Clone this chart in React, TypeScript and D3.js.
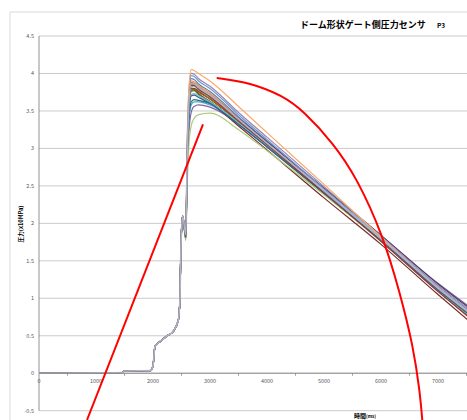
import React from "react";
import * as d3 from "d3";

const TITLE = "ドーム形状ゲート側圧力センサ";
const TITLE_SUB = "P3";
const Y_LABEL = "圧力(x10MPa)";
const X_LABEL_MAIN = "時間";
const X_LABEL_UNIT = "(ms)";

const X_TICKS = [0, 1000, 2000, 3000, 4000, 5000, 6000, 7000];
const X_MINOR = [500, 1500, 2500, 3500, 4500, 5500, 6500, 7500];
const Y_TICKS = [-0.5, 0, 0.5, 1, 1.5, 2, 2.5, 3, 3.5, 4, 4.5];

// shared pre-fill trace (all sensors coincide here)
const BASE_T = [0, 1000, 1470, 1500, 1960, 2000, 2035, 2120, 2250, 2356, 2445, 2474, 2485, 2500, 2520];
const BASE_V = [0, 0.005, 0.01, 0.03, 0.035, 0.1, 0.36, 0.42, 0.5, 0.56, 0.71, 1.02, 1.51, 1.9, 2.1];

// per-shot times after the fill
const SHOT_T = [2575, 2600, 2630, 2670, 2720, 2800, 3000, 3500, 4000, 5000, 6000, 7000, 7600];

const COLORS = [
  "#4F81BD", "#C0504D", "#9BBB59", "#8064A2", "#4BACC6", "#F79646",
  "#2C4D75", "#772C2A", "#5F7530", "#4D3B62", "#276A7C", "#B65708",
  "#729ACA", "#CD7371", "#AFC97A", "#9983B5", "#6FBDD1", "#F9AB6B",
  "#3A5F8B", "#8A3B38", "#AEB4CA",
];

const S1 = [1.85, 2.9, 3.6, 3.93, 3.92, 3.86, 3.76, 3.42, 3.10, 2.45, 1.79, 1.13, 0.76];
const S2 = [1.80, 2.8, 3.55, 3.86, 3.86, 3.80, 3.70, 3.38, 3.05, 2.40, 1.76, 1.10, 0.72];
const S3 = [1.82, 2.85, 3.55, 3.82, 3.83, 3.78, 3.68, 3.37, 3.06, 2.42, 1.78, 1.12, 0.75];
const S4 = [1.78, 2.6, 3.2, 3.48, 3.56, 3.58, 3.55, 3.33, 3.05, 2.47, 1.84, 1.20, 0.86];
const S5 = [1.80, 2.7, 3.35, 3.58, 3.62, 3.62, 3.58, 3.33, 3.03, 2.43, 1.80, 1.15, 0.80];
const S6 = [1.84, 2.95, 3.65, 3.90, 3.89, 3.84, 3.74, 3.40, 3.08, 2.44, 1.79, 1.13, 0.76];
const S7 = [1.83, 2.85, 3.55, 3.80, 3.80, 3.76, 3.66, 3.36, 3.05, 2.42, 1.78, 1.11, 0.74];
const S8 = [1.80, 2.8, 3.5, 3.78, 3.78, 3.73, 3.62, 3.30, 2.98, 2.34, 1.72, 1.05, 0.66];
const S9 = [1.82, 2.85, 3.5, 3.76, 3.77, 3.72, 3.63, 3.33, 3.02, 2.40, 1.77, 1.11, 0.75];
const S10 = [1.85, 2.9, 3.6, 3.85, 3.85, 3.80, 3.71, 3.40, 3.09, 2.47, 1.84, 1.19, 0.84];
const S11 = [1.80, 2.75, 3.4, 3.62, 3.65, 3.64, 3.60, 3.34, 3.03, 2.41, 1.77, 1.11, 0.74];
const S12 = [1.83, 2.85, 3.55, 3.79, 3.79, 3.75, 3.66, 3.36, 3.05, 2.42, 1.78, 1.12, 0.76];
const S13 = [1.86, 3.0, 3.7, 3.97, 3.96, 3.90, 3.80, 3.45, 3.12, 2.46, 1.81, 1.15, 0.79];
const S14 = [1.84, 2.9, 3.6, 3.88, 3.87, 3.82, 3.72, 3.39, 3.07, 2.43, 1.78, 1.12, 0.74];
const S15 = [1.77, 2.5, 3.05, 3.30, 3.40, 3.45, 3.47, 3.25, 2.97, 2.38, 1.76, 1.10, 0.74];
const S16 = [1.87, 3.05, 3.75, 4.00, 3.99, 3.93, 3.83, 3.48, 3.15, 2.49, 1.83, 1.17, 0.82];
const S17 = [1.82, 2.8, 3.5, 3.72, 3.73, 3.70, 3.62, 3.34, 3.04, 2.42, 1.79, 1.13, 0.77];
const S18 = [1.88, 3.1, 3.8, 4.05, 4.04, 4.00, 3.90, 3.56, 3.21, 2.52, 1.82, 1.14, 0.78];
const S19 = [1.81, 2.8, 3.45, 3.70, 3.71, 3.68, 3.60, 3.32, 3.02, 2.40, 1.77, 1.11, 0.75];
const S20 = [1.83, 2.9, 3.58, 3.84, 3.84, 3.79, 3.69, 3.37, 3.05, 2.41, 1.76, 1.09, 0.71];
const S21 = [1.85, 2.9, 3.6, 3.86, 3.86, 3.81, 3.71, 3.39, 3.07, 2.44, 1.80, 1.14, 0.78];

const SERIES = [S1, S2, S3, S4, S5, S6, S7, S8, S9, S10, S11, S12, S13, S14, S15, S16, S17, S18, S19, S20, S21];

// hand-drawn red annotations (in data units)
const RED_LINE_T = [842, 2877];
const RED_LINE_V = [-0.624, 3.32];
const RED_ARC_T = [3118, 3118, 3702, 4286, 4637, 5163, 5574, 6040, 6333, 6567, 6684, 6725, 6740, 6740];
const RED_ARC_V = [3.94, 3.94, 3.88, 3.70, 3.50, 3.07, 2.61, 1.83, 1.07, 0.356, -0.263, -0.624, -0.8, -0.8];

const W = 467;
const H = 420;

export default function App() {
  const x = d3.scaleLinear().domain([0, 8000]).range([39, 39 + 456]);
  const y = d3.scaleLinear().domain([-0.5, 4.5]).range([410.7, 36]);

  const line = d3
    .line<[number, number]>()
    .x((d) => x(d[0]))
    .y((d) => y(d[1]))
    .curve(d3.curveMonotoneX);

  const redStraight = d3
    .line<[number, number]>()
    .x((d) => x(d[0]))
    .y((d) => y(d[1]));
  const redCurve = d3
    .line<[number, number]>()
    .x((d) => x(d[0]))
    .y((d) => y(d[1]))
    .curve(d3.curveBasis);

  const basePts: [number, number][] = BASE_T.map((t, i) => [t, BASE_V[i]]);
  const paths = SERIES.map((vals) => {
    const pts: [number, number][] = basePts.concat(SHOT_T.map((t, i) => [t, vals[i]] as [number, number]));
    return line(pts) || "";
  });

  const font = "'Noto Sans CJK JP', 'Noto Sans', sans-serif";
  const xRight = W + 5;
  const last = paths.length - 1;

  return (
    <svg
      width={W}
      height={H}
      style={{ position: "absolute", left: 0, top: 0, background: "#fff" }}
      fontFamily={font}
    >
      <rect x={0} y={0} width={W} height={H} fill="#fff" />
      {/* chart border */}
      <line x1={10} x2={xRight} y1={12} y2={12} stroke="#D9D9D9" strokeWidth={1} />
      <line x1={10} x2={10} y1={12} y2={H + 5} stroke="#D9D9D9" strokeWidth={1} />

      {/* gridlines */}
      {Y_TICKS.map((v) => (
        <line key={"g" + v} x1={39} x2={xRight} y1={y(v)} y2={y(v)} stroke="#C4C4C4" strokeWidth={0.9} />
      ))}
      {/* y axis */}
      <line x1={39} x2={39} y1={y(4.5)} y2={y(-0.5)} stroke="#868686" strokeWidth={0.9} />
      {Y_TICKS.map((v) => (
        <text key={"yl" + v} x={34} y={y(v) + 2} fontSize={5.5} fill="#595959" textAnchor="end">
          {v}
        </text>
      ))}

      {/* series */}
      <g fill="none" strokeLinejoin="round">
        {paths.map((d, i) => (
          <path key={i} d={d} stroke={COLORS[i % COLORS.length]} strokeWidth={i === last ? 1.6 : 1.2} />
        ))}
      </g>

      {/* x axis at zero */}
      <line x1={39} x2={xRight} y1={y(0)} y2={y(0)} stroke="#868686" strokeWidth={0.9} />
      {X_MINOR.map((t) => (
        <line key={"m" + t} x1={x(t)} x2={x(t)} y1={y(0)} y2={y(0) + 2.5} stroke="#868686" strokeWidth={0.8} />
      ))}
      {X_TICKS.map((t) => (
        <text key={"xl" + t} x={x(t)} y={y(0) + 9.5} fontSize={5.5} fill="#595959" textAnchor="middle">
          {t}
        </text>
      ))}

      {/* titles */}
      <text x={300} y={27.5} fontSize={9} fontWeight={700} fill="#000">
        {TITLE}
      </text>
      <text x={437} y={27.5} fontSize={6.5} fontWeight={700} fill="#000">
        {TITLE_SUB}
      </text>
      <text
        transform={`translate(22.5, 224) rotate(-90)`}
        fontSize={5.6}
        fontWeight={700}
        fill="#000"
        textAnchor="middle"
      >
        {Y_LABEL}
      </text>
      <text x={365} y={418} fontSize={6} fontWeight={700} fill="#000" textAnchor="middle">
        {X_LABEL_MAIN}
        <tspan fontSize={4.5}>{X_LABEL_UNIT}</tspan>
      </text>

      {/* red annotations */}
      <path
        d={redStraight(RED_LINE_T.map((t, i) => [t, RED_LINE_V[i]] as [number, number])) || ""}
        stroke="#FF0000"
        strokeWidth={2}
        fill="none"
      />
      <path
        d={redCurve(RED_ARC_T.map((t, i) => [t, RED_ARC_V[i]] as [number, number])) || ""}
        stroke="#FF0000"
        strokeWidth={2}
        fill="none"
      />
    </svg>
  );
}
